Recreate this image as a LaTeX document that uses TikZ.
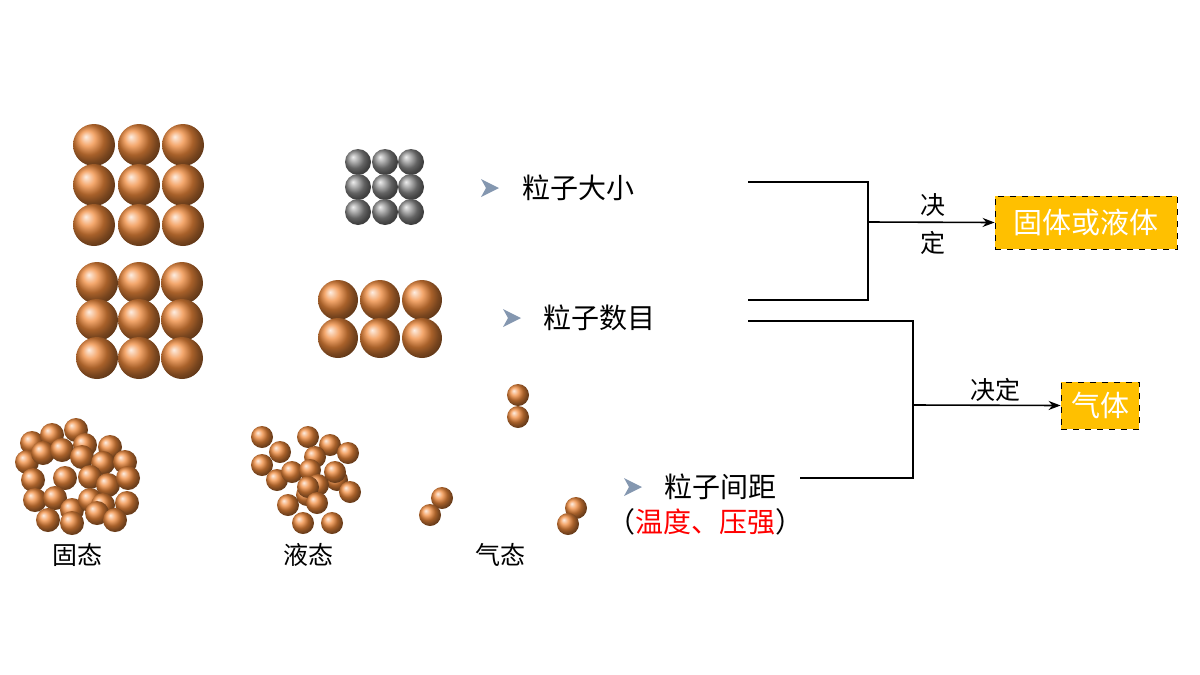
\documentclass[tikz,border=0pt]{standalone}
\usepackage{fontspec}
\setmainfont{Noto Sans CJK SC}
\usetikzlibrary{arrows.meta}
\definecolor{og}{HTML}{F08A3C}
\definecolor{gld}{HTML}{FFC000}
\definecolor{bul}{HTML}{8497B0}
\newcommand{\ball}[3]{\shade[ball color=og] (#1,#2) circle (#3);}
\newcommand{\gball}[3]{\shade[ball color=gray!90] (#1,#2) circle (#3);}
\newcommand{\bul}[2]{\fill[bul] (#1-9,#2-9) -- (#1+9,#2) -- (#1-9,#2+9) -- (#1-4,#2) -- cycle;}
\begin{document}
\begin{tikzpicture}[x=0.5pt,y=-0.5pt,
  lbl/.style={font=\fontsize{12.5pt}{14pt}\selectfont},
  big/.style={font=\fontsize{14pt}{16pt}\selectfont},
  line/.style={draw=black,line width=0.8pt},
  arr/.style={line,-{Stealth[length=6pt]}},
  res/.style={draw=black,dashed,fill=gld,text=white,font=\fontsize{14.5pt}{16pt}\selectfont,inner sep=0pt}]
\useasboundingbox (0,0) rectangle (1200,675);
\foreach \x in {94,139,183}{\foreach \y in {145,185,225}{\ball{\x}{\y}{21}}}
\foreach \x in {97,139,182}{\foreach \y in {283,320,358}{\ball{\x}{\y}{21}}}
\foreach \x in {358,385,411}{\foreach \y in {162,187,212}{\gball{\x}{\y}{13}}}
\foreach \x in {338,380,422}{\foreach \y in {300,338}{\ball{\x}{\y}{20}}}
\ball{518}{395}{11}\ball{518}{417}{11}
\ball{442}{498}{11}\ball{430}{515}{11}
\ball{576}{508}{11}\ball{568}{524}{11}
\foreach \x/\y in {32/443,52/435,76/430,85/445,110/447,27/462,43/453,62/450,82/457,103/463,125/462,33/480,65/478,90/477,108/485,128/478,35/500,55/498,72/510,90/500,103/505,127/503,48/520,72/523,97/513,115/520}{\ball{\x}{\y}{12}}
\foreach \x/\y in {262/437,280/452,308/437,330/445,348/453,262/465,315/457,277/480,292/472,310/470,337/480,335/472,307/495,318/485,308/487,350/492,288/505,317/503,303/523,332/523}{\ball{\x}{\y}{11}}
\node[lbl] (l1) at (78,555) {固态};
\node[lbl] (l2) at (308,555) {液态};
\node[lbl] (l3) at (500,555) {气态};
\bul{490}{188}\bul{512}{318}\bul{633}{487}
\node[big,anchor=west] (t1) at (515,188) {粒子大小};
\node[big,anchor=west] (t2) at (536,318) {粒子数目};
\node[big,anchor=west] (t3) at (657,487) {粒子间距};
\node[big] (t4) at (705,522) {（\textcolor{red}{温度、压强}）};
\coordinate (a1) at (748,182); \coordinate (a2) at (868,182);
\coordinate (a3) at (868,300); \coordinate (a4) at (748,300);
\coordinate (j1) at (868,222);
\draw[line] (a1) -- (a2) -- (a3) -- (a4);
\node[res,minimum width=182\pgflinewidth*0+91pt,minimum height=26.5pt] (r1) at (1086,222.5) {固体或液体};
\draw[arr] (j1) -- (r1.west);
\node[lbl] (d1) at (933,205) {决};
\node[lbl] (d2) at (933,243) {定};
\coordinate (b1) at (748,321); \coordinate (b2) at (913,321);
\coordinate (b3) at (913,478); \coordinate (b4) at (800,478);
\coordinate (j2) at (913,405);
\draw[line] (b1) -- (b2) -- (b3) -- (b4);
\node[res,minimum width=39pt,minimum height=23.5pt] (r2) at (1100,405.5) {气体};
\draw[arr] (j2) -- (r2.west);
\node[lbl] (d3) at (995,390) {决定};
\end{tikzpicture}
\end{document}
